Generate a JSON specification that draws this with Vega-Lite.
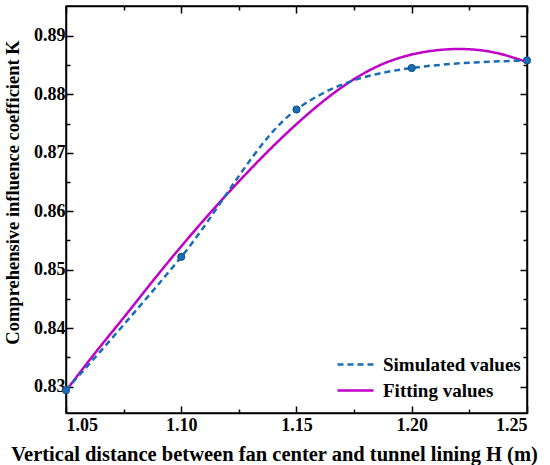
{
  "$schema": "https://vega.github.io/schema/vega-lite/v6.json",
  "autosize": {"type": "none"},
  "width": 461,
  "height": 407,
  "padding": {"left": 66, "top": 6, "right": 23, "bottom": 52},
  "background": "#FFFFFF",
  "datasets": {
    "fit": [
      {"H": 1.05, "K": 0.8293, "series": "Fitting values"},
      {"H": 1.0625, "K": 0.8357, "series": "Fitting values"},
      {"H": 1.075, "K": 0.8418, "series": "Fitting values"},
      {"H": 1.0875, "K": 0.848, "series": "Fitting values"},
      {"H": 1.1, "K": 0.854, "series": "Fitting values"},
      {"H": 1.1125, "K": 0.8597, "series": "Fitting values"},
      {"H": 1.125, "K": 0.8651, "series": "Fitting values"},
      {"H": 1.1375, "K": 0.8702, "series": "Fitting values"},
      {"H": 1.15, "K": 0.8749, "series": "Fitting values"},
      {"H": 1.1625, "K": 0.8791, "series": "Fitting values"},
      {"H": 1.175, "K": 0.8826, "series": "Fitting values"},
      {"H": 1.1875, "K": 0.8852, "series": "Fitting values"},
      {"H": 1.2, "K": 0.8868, "series": "Fitting values"},
      {"H": 1.2125, "K": 0.8876, "series": "Fitting values"},
      {"H": 1.225, "K": 0.8877, "series": "Fitting values"},
      {"H": 1.2375, "K": 0.8870, "series": "Fitting values"},
      {"H": 1.25, "K": 0.8855, "series": "Fitting values"}
    ],
    "sim": [
      {"H": 1.05, "K": 0.8294, "series": "Simulated values"},
      {"H": 1.1, "K": 0.8522, "series": "Simulated values"},
      {"H": 1.15, "K": 0.8774, "series": "Simulated values"},
      {"H": 1.2, "K": 0.8845, "series": "Simulated values"},
      {"H": 1.25, "K": 0.8858, "series": "Simulated values"}
    ]
  },
  "layer": [
    {
      "data": {"name": "fit"},
      "mark": {"type": "line", "strokeWidth": 2.5, "interpolate": "natural", "clip": true},
      "encoding": {
        "x": {
          "field": "H", "type": "quantitative",
          "scale": {"domain": [1.05, 1.25], "nice": false, "zero": false},
          "axis": {
            "orient": "bottom",
            "title": "Vertical distance between fan center and tunnel lining H (m)",
            "values": [1.05, 1.075, 1.1, 1.125, 1.15, 1.175, 1.2, 1.225, 1.25],
            "labelExpr": "abs(datum.value*20 - round(datum.value*20)) < 0.001 ? format(datum.value, '.2f') : ''",
            "tickSize": {"condition": {"test": "abs(datum.value*20 - round(datum.value*20)) < 0.001", "value": -7}, "value": -4},
            "labelPadding": 10,
            "titleFontSize": 20.5,
            "titleX": 208,
            "titleY": 47,
            "titleAlign": "center",
            "titleBaseline": "alphabetic"
          }
        },
        "y": {
          "field": "K", "type": "quantitative",
          "scale": {"domain": [0.8255, 0.8951], "nice": false, "zero": false},
          "axis": {
            "orient": "left",
            "title": "Comprehensive influence coefficient  K",
            "values": [0.83, 0.835, 0.84, 0.845, 0.85, 0.855, 0.86, 0.865, 0.87, 0.875, 0.88, 0.885, 0.89],
            "labelExpr": "abs(datum.value*100 - round(datum.value*100)) < 0.001 ? format(datum.value, '.2f') : ''",
            "tickSize": {"condition": {"test": "abs(datum.value*100 - round(datum.value*100)) < 0.001", "value": -7}, "value": -4},
            "labelPadding": 8,
            "titleFontSize": 18.5,
            "titleX": -48,
            "titleY": 186,
            "titleAngle": -90,
            "titleAlign": "center",
            "titleBaseline": "alphabetic"
          }
        },
        "color": {
          "field": "series", "type": "nominal",
          "scale": {"domain": ["Simulated values", "Fitting values"], "range": ["#1a6db5", "#c000c8"]},
          "legend": {"title": null}
        },
        "strokeDash": {
          "field": "series", "type": "nominal",
          "scale": {"domain": ["Simulated values", "Fitting values"], "range": [[6, 4], [1, 0]]},
          "legend": {"title": null}
        }
      }
    },
    {
      "data": {"name": "sim"},
      "mark": {"type": "line", "strokeWidth": 2.5, "interpolate": "monotone", "clip": true},
      "encoding": {
        "x": {
          "field": "H", "type": "quantitative",
          "axis": {
            "orient": "top",
            "title": null,
            "labels": false,
            "values": [1.05, 1.075, 1.1, 1.125, 1.15, 1.175, 1.2, 1.225, 1.25],
            "tickSize": {"condition": {"test": "abs(datum.value*20 - round(datum.value*20)) < 0.001", "value": -7}, "value": -4}
          }
        },
        "y": {
          "field": "K", "type": "quantitative",
          "axis": {
            "orient": "right",
            "title": null,
            "labels": false,
            "values": [0.83, 0.835, 0.84, 0.845, 0.85, 0.855, 0.86, 0.865, 0.87, 0.875, 0.88, 0.885, 0.89],
            "tickSize": {"condition": {"test": "abs(datum.value*100 - round(datum.value*100)) < 0.001", "value": -7}, "value": -4}
          }
        },
        "color": {"field": "series", "type": "nominal", "legend": {"title": null}},
        "strokeDash": {"field": "series", "type": "nominal", "legend": {"title": null}}
      }
    },
    {
      "data": {"name": "sim"},
      "mark": {"type": "point", "shape": "circle", "filled": true, "size": 52, "color": "#1a6db5", "stroke": "#0e4f8a", "strokeWidth": 1, "opacity": 1, "clip": false},
      "encoding": {
        "x": {"field": "H", "type": "quantitative", "axis": null},
        "y": {"field": "K", "type": "quantitative", "axis": null}
      }
    }
  ],
  "resolve": {"axis": {"x": "independent", "y": "independent"}},
  "config": {
    "font": "Liberation Serif",
    "view": {"stroke": "black", "strokeWidth": 1.5},
    "axis": {
      "domainColor": "black",
      "domainWidth": 1.5,
      "tickColor": "black",
      "tickWidth": 1.5,
      "grid": false,
      "labelFont": "Liberation Serif",
      "labelFontSize": 18,
      "labelFontWeight": "bold",
      "labelColor": "black",
      "titleFont": "Liberation Serif",
      "titleFontWeight": "bold",
      "titleColor": "black"
    },
    "legend": {
      "orient": "none",
      "legendX": 280,
      "legendY": 349,
      "symbolType": "M-3,0H3",
      "symbolSize": 144,
      "symbolStrokeWidth": 2.5,
      "labelOffset": 18,
      "labelFont": "Liberation Serif",
      "labelFontSize": 19,
      "labelFontWeight": "bold",
      "labelColor": "black",
      "rowPadding": 6,
      "padding": 0
    }
  }
}
